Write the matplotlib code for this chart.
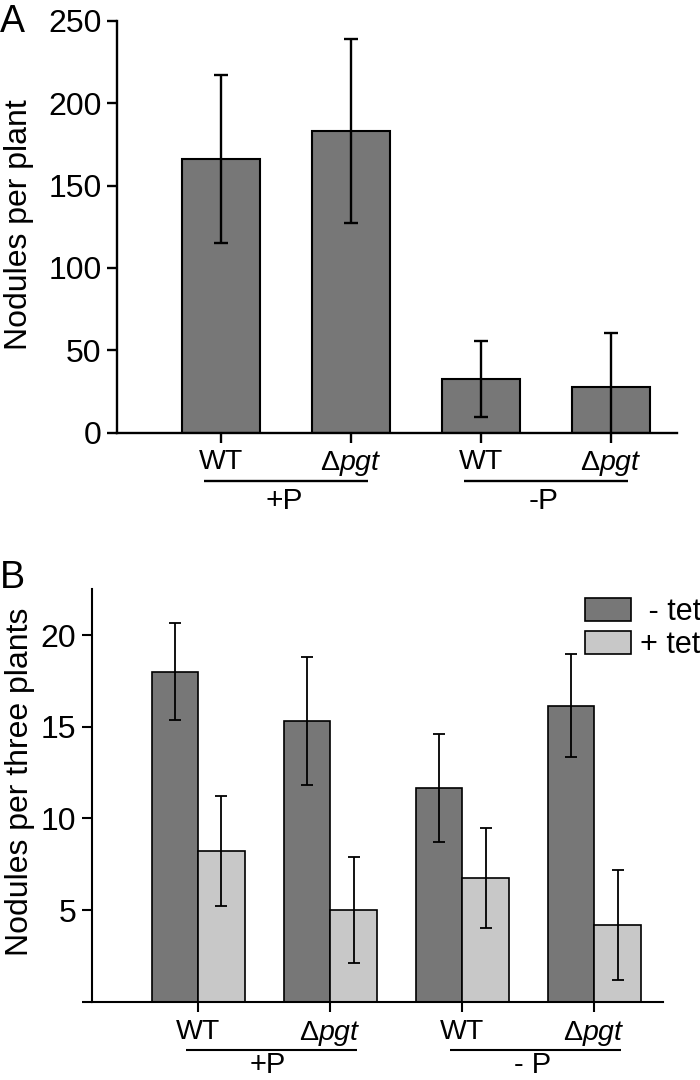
import matplotlib
matplotlib.use("Agg")
import matplotlib.pyplot as plt
import numpy as np

plt.rcParams['font.family'] = ['Liberation Sans', 'DejaVu Sans']
plt.rcParams['mathtext.fontset'] = 'custom'
plt.rcParams['mathtext.rm'] = 'Liberation Sans'
plt.rcParams['mathtext.it'] = 'Liberation Sans:italic'

# ---------------- data ----------------
strains = ['WT', 'Δ$\\mathit{pgt}$', 'WT', 'Δ$\\mathit{pgt}$']
groups = ['+P', '-P']
groups_b = ['+P', '- P']

# Panel A
a_values = [166, 183, 32.5, 27.5]
a_errors = [51, 56, 23, 33]
a_ylabel = 'Nodules per plant'
a_yticks = [0, 50, 100, 150, 200, 250]

# Panel B
b_minus_tet = [18.0, 15.3, 11.65, 16.15]
b_minus_err = [2.65, 3.5, 2.95, 2.8]
b_plus_tet = [8.2, 5.0, 6.75, 4.2]
b_plus_err = [3.0, 2.9, 2.75, 3.0]
b_ylabel = 'Nodules per three plants'
b_yticks = [0, 5, 10, 15, 20]
b_ytick_labels = ['', '5', '10', '15', '20']
legend_labels = [' - tet', '+ tet']

dark = '#777777'
light = '#c8c8c8'

W, H = 700, 1080
fig = plt.figure(figsize=(W / 100, H / 100), dpi=100)


def px_axes(left, right, top, bottom):
    return fig.add_axes([left / W, 1 - bottom / H, (right - left) / W, (bottom - top) / H])


def style(ax, lw):
    for s in ['top', 'right']:
        ax.spines[s].set_visible(False)
    for s in ['left', 'bottom']:
        ax.spines[s].set_linewidth(lw)
    ax.tick_params(axis='both', direction='out', length=7.2, width=lw, color='black')
    ax.tick_params(axis='y', labelsize=23, pad=4)
    ax.tick_params(axis='x', labelsize=20.5, pad=5)


# ---------------- Panel A ----------------
axA = px_axes(117, 677, 21, 432.5)
x = np.arange(len(a_values))
axA.bar(x, a_values, width=0.6, color=dark, edgecolor='black', linewidth=1.5, zorder=2)
axA.errorbar(x, a_values, yerr=a_errors, fmt='none', ecolor='black', elinewidth=1.7,
             capsize=5, capthick=1.7, zorder=3)
axA.set_xlim(-0.8, 3.51)
axA.set_ylim(0, 250)
axA.set_yticks(a_yticks)
axA.set_xticks(x)
axA.set_xticklabels(strains)
style(axA, 1.7)
axA.set_ylabel(a_ylabel, fontsize=23)
axA.yaxis.set_label_coords(-0.148, 0.504)

trA = axA.get_xaxis_transform()
for gi, g in enumerate(groups):
    i0, i1 = 2 * gi, 2 * gi + 1
    axA.plot([i0 - 0.13, i1 + 0.13], [-0.118, -0.118], transform=trA, color='black',
             lw=1.7, clip_on=False, solid_capstyle='butt')
    axA.text((i0 + i1) / 2 - 0.015, -0.167, g, transform=trA, ha='center', va='center',
             fontsize=21.5)

fig.text(0 / W, 1 - 32 / H, 'A', fontsize=27, ha='left', va='baseline')

# ---------------- Panel B ----------------
axB = px_axes(91.7, 662.7, 589.3, 1001.7)
xb = np.arange(len(b_minus_tet))
w = 0.352
bm = axB.bar(xb - w / 2, b_minus_tet, width=w, color=dark, edgecolor='black', linewidth=1.2,
             zorder=2, label=legend_labels[0])
bp = axB.bar(xb + w / 2, b_plus_tet, width=w, color=light, edgecolor='black', linewidth=1.2,
             zorder=2, label=legend_labels[1])
axB.errorbar(xb - w / 2, b_minus_tet, yerr=b_minus_err, fmt='none', ecolor='black',
             elinewidth=1.3, capsize=4.3, capthick=1.3, zorder=3)
axB.errorbar(xb + w / 2, b_plus_tet, yerr=b_plus_err, fmt='none', ecolor='black',
             elinewidth=1.3, capsize=4.3, capthick=1.3, zorder=3)
axB.set_xlim(-0.807, 3.518)
axB.set_ylim(0, 22.5)
axB.set_yticks(b_yticks)
axB.set_yticklabels(b_ytick_labels)
axB.set_xticks(xb)
axB.set_xticklabels(strains)
style(axB, 1.5)
axB.set_ylabel(b_ylabel, fontsize=23)
axB.yaxis.set_label_coords(-0.1, 0.533)

trB = axB.get_xaxis_transform()
for gi, g in enumerate(groups_b):
    i0, i1 = 2 * gi, 2 * gi + 1
    axB.plot([i0 - 0.09, i1 + 0.2], [-0.117, -0.117], transform=trB, color='black',
             lw=1.5, clip_on=False, solid_capstyle='butt')
    axB.text((i0 + i1) / 2 + 0.03, 1 - 1079 / H, g, transform=axB.get_xaxis_transform().__class__(axB.transData, fig.transFigure),
             ha='center', va='bottom', fontsize=21)

leg = axB.legend(handles=[bm, bp], loc='upper left', frameon=False, fontsize=22,
                 handlelength=1.5, handleheight=0.75, handletextpad=0.3,
                 labelspacing=0.1, borderpad=0, borderaxespad=0,
                 bbox_to_anchor=(585 / W, 1 - 597 / H), bbox_transform=fig.transFigure)

fig.text(0 / W, 1 - 588 / H, 'B', fontsize=27, ha='left', va='baseline')

fig.savefig('out.png', dpi=100)
